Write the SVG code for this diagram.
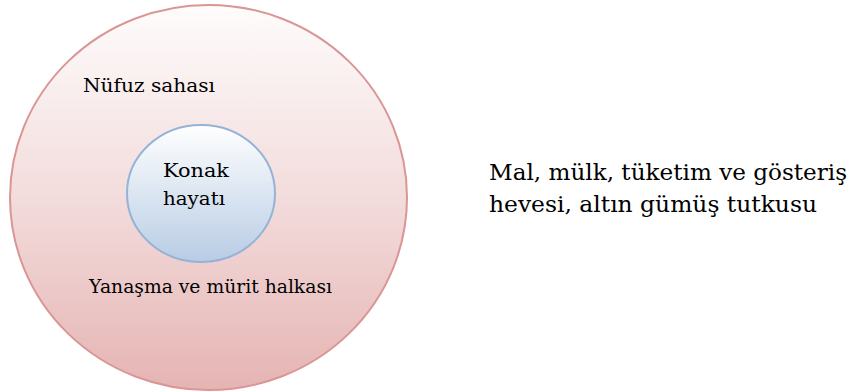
<svg xmlns="http://www.w3.org/2000/svg" width="854" height="392" viewBox="0 0 854 392">
<style>
.t { font-family: 'DejaVu Serif', 'Liberation Serif', serif; fill: #000000; }
.s { font-size: 18.5px; }
.l { font-size: 22px; }
</style>
<defs>
<linearGradient id="gOuter" x1="0" y1="0" x2="0" y2="1">
<stop offset="0" stop-color="#fefcfc"/>
<stop offset="0.5" stop-color="#f3dcdc"/>
<stop offset="1" stop-color="#e5b4b3"/>
</linearGradient>
<linearGradient id="gInner" x1="0" y1="0" x2="0" y2="1">
<stop offset="0" stop-color="#ffffff"/>
<stop offset="1" stop-color="#b8cce4"/>
</linearGradient>
</defs>
<rect width="854" height="392" fill="#ffffff"/>
<g id="outer">
<ellipse cx="208.5" cy="197.5" rx="198.5" ry="192.5" fill="url(#gOuter)" stroke="#d99695" stroke-width="2"/>
<text class="t s" x="83" y="92" textLength="132" lengthAdjust="spacingAndGlyphs">Nüfuz sahası</text>
<text class="t s" x="89" y="293" textLength="243" lengthAdjust="spacingAndGlyphs">Yanaşma ve mürit halkası</text>
</g>
<g id="inner">
<ellipse cx="201" cy="193.5" rx="74" ry="68.5" fill="url(#gInner)" stroke="#95b3d7" stroke-width="2"/>
<text class="t s" x="163" y="177" textLength="66" lengthAdjust="spacingAndGlyphs">Konak</text>
<text class="t s" x="163" y="205" textLength="62" lengthAdjust="spacingAndGlyphs">hayatı</text>
</g>
<g id="caption">
<text class="t l" x="489" y="180" textLength="358" lengthAdjust="spacingAndGlyphs">Mal, mülk, tüketim ve gösteriş</text>
<text class="t l" x="489" y="212" textLength="328" lengthAdjust="spacingAndGlyphs">hevesi, altın gümüş tutkusu</text>
</g>
<g id="connectors"/>
</svg>
